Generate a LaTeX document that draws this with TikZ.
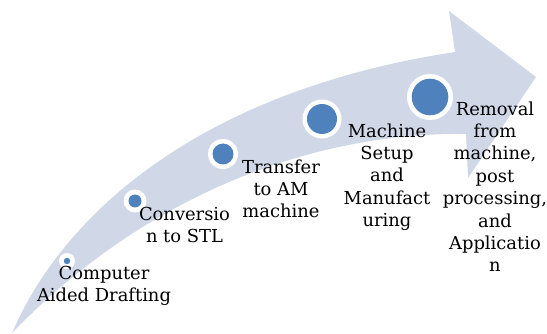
\documentclass[tikz,border=0pt]{standalone}
\usepackage{fontspec}
\setmainfont{DejaVu Serif}
\definecolor{bandcol}{HTML}{D0D8E8}
\definecolor{dotblue}{HTML}{4F81BD}
\tikzset{
  band/.style={fill=bandcol, draw=none},
  ring/.style={circle, fill=white, draw=none, inner sep=0pt},
  dotc/.style={circle, fill=dotblue, draw=none, inner sep=0pt},
  label/.style={align=center, anchor=north, inner sep=0pt,
    font=\fontsize{17.9}{22.4}\selectfont, text=black}
}
\begin{document}
\begin{tikzpicture}[x=1pt,y=-1pt]
\useasboundingbox (0,0) rectangle (547,334);
% curved arrow
\fill[band] (12,333) .. controls (65,210) and (205,90) .. (455,52)
  -- (449,11) -- (536,77) -- (468,178) -- (466,134)
  .. controls (320,132) and (150,190) .. (12,333) -- cycle;
% dots
\node[ring, minimum size=16pt] (r1) at (67,261) {};
\node[dotc, minimum size=6.4pt] (d1) at (r1) {};
\node[ring, minimum size=23pt] (r2) at (135,201) {};
\node[dotc, minimum size=13pt] (d2) at (r2) {};
\node[ring, minimum size=30pt] (r3) at (223,154) {};
\node[dotc, minimum size=21pt] (d3) at (r3) {};
\node[ring, minimum size=39pt] (r4) at (322,119) {};
\node[dotc, minimum size=30pt] (d4) at (r4) {};
\node[ring, minimum size=46pt] (r5) at (430,97) {};
\node[dotc, minimum size=36.6pt] (d5) at (r5) {};
% labels
\node[label] (t1) at (104,263.3) {\strut Computer\\Aided Drafting};
\node[label] (t2) at (184.5,204.3) {\strut Conversio\\n to STL};
\node[label] (t3) at (281,157.3) {\strut Transfer\\to AM\\machine};
\node[label] (t4) at (387,121.3) {\strut Machine\\Setup\\and\\Manufact\\uring};
\node[label] (t5) at (495,99.3) {\strut Removal\\from\\machine,\\post\\processing,\\and\\Applicatio\\n};
\end{tikzpicture}
\end{document}
